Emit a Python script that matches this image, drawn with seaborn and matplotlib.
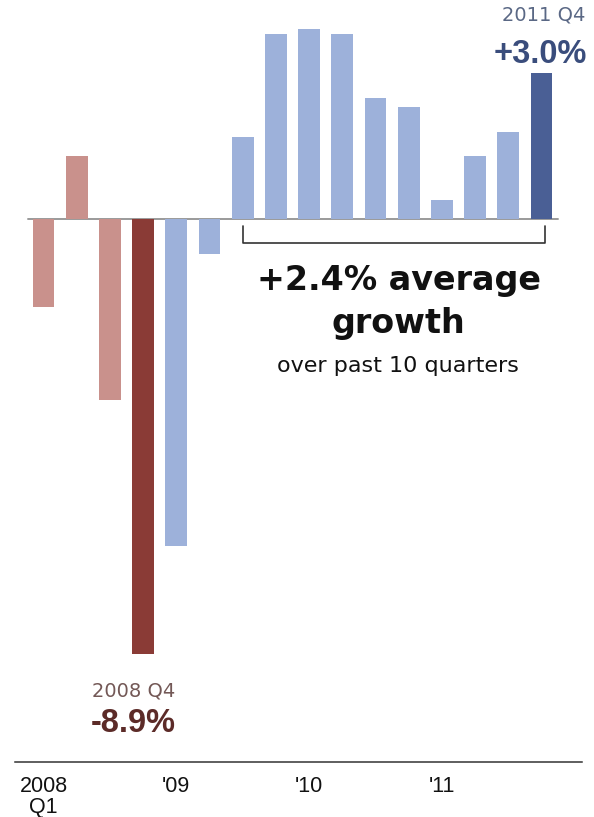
import matplotlib
matplotlib.use("Agg")
import matplotlib.pyplot as plt
import seaborn as sns
import pandas as pd

# Real GDP growth, quarterly, annualized (%)
quarters = ["2008 Q1", "2008 Q2", "2008 Q3", "2008 Q4",
            "2009 Q1", "2009 Q2", "2009 Q3", "2009 Q4",
            "2010 Q1", "2010 Q2", "2010 Q3", "2010 Q4",
            "2011 Q1", "2011 Q2", "2011 Q3", "2011 Q4"]
growth = [-1.8, 1.3, -3.7, -8.9,
          -6.7, -0.7, 1.7, 3.8,
          3.9, 3.8, 2.5, 2.3,
          0.4, 1.3, 1.8, 3.0]
tick_positions = [0, 4, 8, 12]
tick_labels = ["2008\nQ1", "'09", "'10", "'11"]
average_label = "+2.4%"
headline = "average\ngrowth"
subline = "over past 10 quarters"

PINK = "#c9918c"
DARK_RED = "#8a3b36"
LIGHT_BLUE = "#9db1da"
DARK_BLUE = "#4a5f95"
bar_colors = [PINK, PINK, PINK, DARK_RED] + [LIGHT_BLUE] * 11 + [DARK_BLUE]
palette = dict(zip(quarters, bar_colors))

df = pd.DataFrame({"quarter": quarters, "growth": growth})

sns.set_theme(style="white")
plt.rcParams["font.family"] = ["Liberation Sans", "DejaVu Sans"]

fig = plt.figure(figsize=(5.94, 8.17), dpi=100)
ax = fig.add_axes([15 / 594, 55 / 817, 567 / 594, 762 / 817])

sns.barplot(data=df, x="quarter", y="growth", hue="quarter", palette=palette,
            order=quarters, hue_order=quarters, legend=False, errorbar=None,
            width=0.654, linewidth=0, saturation=1, ax=ax)

ax.set_xlim(-0.858, 16.22)
ax.set_ylim(-11.117, 4.498)

# zero baseline
ax.axhline(0, xmin=0.0229, xmax=0.9577, color="#9a9a9a", lw=1.4, zorder=0.5)

# axes frame: only the bottom rule
for side in ["top", "left", "right"]:
    ax.spines[side].set_visible(False)
ax.spines["bottom"].set_color("#333333")
ax.spines["bottom"].set_linewidth(1.1)
ax.set_yticks([])
ax.set_xticks(tick_positions)
ax.set_xticklabels(tick_labels)
ax.tick_params(axis="x", length=0, pad=10, labelsize=15.5, labelcolor="#111111")
for lab in ax.get_xticklabels():
    lab.set_linespacing(1.0)
ax.set_xlabel("")
ax.set_ylabel("")

# callout for the deepest quarter
i_low = 3
ax.text(2.73, -9.78, quarters[i_low], ha="center", va="baseline",
        fontsize=14, color="#735856", family=["DejaVu Sans"])
ax.text(2.70, -10.50, f"{growth[i_low]:+.1f}%", ha="center", va="baseline",
        fontsize=23.5, color="#5c2b28", fontweight="bold")

# callout for the latest quarter
i_last = len(growth) - 1
ax.text(15.06, 4.07, quarters[i_last], ha="center", va="baseline",
        fontsize=14, color="#5a6885", family=["DejaVu Sans"])
ax.text(14.97, 3.21, f"{growth[i_last]:+.1f}%", ha="center", va="baseline",
        fontsize=23.5, color="#3a4d7c", fontweight="bold")

# bracket spanning the last 10 quarters
x0, x1 = 6.0, 15.1
y_top, y_bot = -0.14, -0.49
ax.plot([x0, x0, x1, x1], [y_top, y_bot, y_bot, y_top], color="#333333",
        lw=1.2, solid_joinstyle="round", solid_capstyle="round")

first_line, second_line = headline.split("\n")
ax.text(10.71, -1.445, f"{average_label} {first_line}", ha="center", va="baseline",
        fontsize=24, fontweight="bold", color="#111111", family=["DejaVu Sans"])
ax.text(10.68, -2.33, second_line, ha="center", va="baseline",
        fontsize=24, fontweight="bold", color="#111111", family=["DejaVu Sans"])
ax.text(10.69, -3.125, subline, ha="center", va="baseline",
        fontsize=16, color="#111111", family=["DejaVu Sans"])

fig.savefig("out.png", dpi=100, facecolor="white")
